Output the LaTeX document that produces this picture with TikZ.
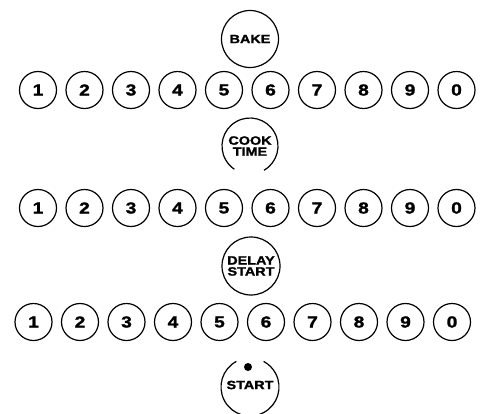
\documentclass[tikz,border=0pt]{standalone}
\usepackage{fontspec}
\setmainfont{Liberation Sans}
\newfontfamily\keyfont{Liberation Sans}[BoldFeatures={FakeBold=1.5,FakeStretch=1.2}]
\begin{document}
\begin{tikzpicture}[x=1pt,y=1pt,
  numkey/.style={circle,draw,line width=1.2pt,minimum size=37pt,inner sep=0pt,
    font=\keyfont\bfseries\fontsize{16}{16}\selectfont},
  bigkey/.style={circle,draw,line width=1.2pt,minimum size=57pt,inner sep=0pt,align=center,
    font=\keyfont\bfseries\fontsize{12}{11}\selectfont},
  bigtext/.style={inner sep=0pt,align=center,
    font=\keyfont\bfseries\fontsize{12}{11}\selectfont},
  openarc/.style={line width=1.2pt}]
\useasboundingbox (0,0) rectangle (482,-413);
% row 1
\foreach \d [count=\i from 0] in {1,2,3,4,5,6,7,8,9,0}
  \node[numkey] (ra\i) at ({38+46.5*\i},-90) {\d};
% row 2
\foreach \d [count=\i from 0] in {1,2,3,4,5,6,7,8,9,0}
  \node[numkey] (rb\i) at ({38+46.5*\i},-208) {\d};
% row 3
\foreach \d [count=\i from 0] in {1,2,3,4,5,6,7,8,9,0}
  \node[numkey] (rc\i) at ({33.5+46.5*\i},-322) {\d};
% BAKE
\node[bigkey] (bake) at (250,-39) {BAKE};
% COOK TIME (open at bottom)
\node[bigtext] (cook) at (250,-146) {COOK\\TIME};
\draw[openarc] ([shift={(-60:28)}]cook.center) arc[start angle=-60,end angle=236,radius=28];
% DELAY START
\node[bigkey,minimum size=58pt] (delay) at (251,-266) {DELAY\\START};
% START (open at top)
\node[bigtext] (start) at (250,-385) {START};
\fill (248,-367) circle[radius=4];
\coordinate (startc) at (250,-387);
\draw[openarc] ([shift={(118:29)}]startc) arc[start angle=118,end angle=422,radius=29];
\end{tikzpicture}
\end{document}
